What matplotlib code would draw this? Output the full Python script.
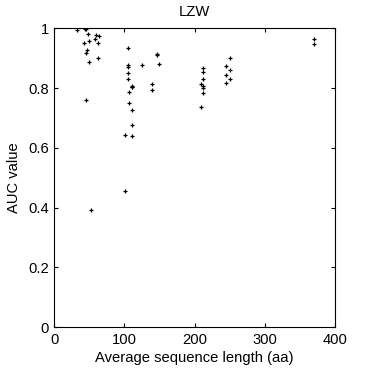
import matplotlib
matplotlib.use("Agg")
import matplotlib.pyplot as plt

length = [31.8, 44.2, 45.1, 48.5, 41.8, 49.9, 58.9, 63.2, 58.4, 62.2, 46.1, 44.7, 49.9, 62.7, 45.6, 52.7,
          105.5, 105.5, 105.5, 105.5, 105.5, 111.2, 111.2, 111.0, 106.9, 106.9, 111.2, 111.2, 101.2, 111.2, 101.2,
          125.4, 139.7, 139.7, 146.8, 146.8, 149.6,
          212.5, 212.5, 212.5, 209.3, 212.5, 212.5, 212.5, 209.3,
          245.0, 250.8, 250.8, 245.0, 250.8, 245.0,
          370.3, 370.3]
auc = [0.993, 0.999, 0.997, 0.980, 0.950, 0.956, 0.977, 0.974, 0.963, 0.950, 0.927, 0.917, 0.886, 0.900, 0.759, 0.391,
       0.933, 0.877, 0.869, 0.849, 0.829, 0.807, 0.802, 0.805, 0.786, 0.749, 0.725, 0.675, 0.642, 0.638, 0.454,
       0.876, 0.8125, 0.792, 0.913, 0.911, 0.879,
       0.866, 0.853, 0.829, 0.813, 0.806, 0.799, 0.782, 0.735,
       0.873, 0.900, 0.859, 0.843, 0.829, 0.816,
       0.964, 0.946]

plt.rcParams['font.family'] = ['Liberation Sans', 'DejaVu Sans']
fs = 10.6
fig = plt.figure(figsize=(3.7, 3.7), dpi=100)
ax = fig.add_axes([0.1468, 0.1162, 0.9054 - 0.1468, 0.9235 - 0.1162])
ax.plot(length, auc, '+', color='black', markersize=3.5, markeredgewidth=0.9)
ax.set_xlim(0, 400)
ax.set_ylim(0, 1)
ax.set_xticks([0, 100, 200, 300, 400])
ax.set_yticks([0, 0.2, 0.4, 0.6, 0.8, 1])
ax.set_yticklabels(['0', '0.2', '0.4', '0.6', '0.8', '1'])
ax.tick_params(direction='in', top=True, right=True, length=3, width=0.8, labelsize=fs)
ax.tick_params(axis='x', pad=4)
ax.tick_params(axis='y', pad=4)
for s in ax.spines.values():
    s.set_linewidth(0.8)
ax.set_title('LZW', fontsize=fs, pad=9)
ax.set_xlabel('Average sequence length (aa)', fontsize=fs, labelpad=3)
ax.set_ylabel('AUC value', fontsize=fs, labelpad=5)
fig.savefig('out.png', dpi=100, facecolor='white')
